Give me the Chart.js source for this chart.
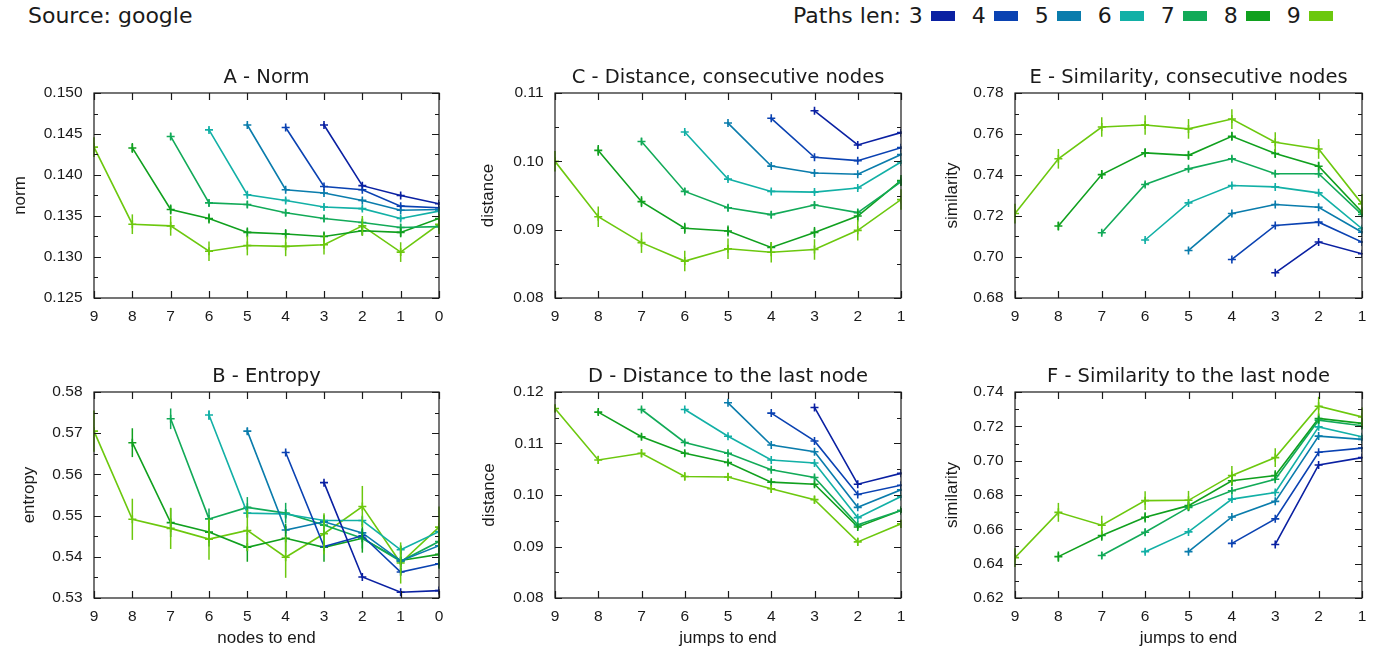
<!DOCTYPE html>
<html>
<head>
<meta charset="utf-8">
<script src="https://cdn.jsdelivr.net/npm/chart.js@4/dist/chart.umd.min.js"></script>
<style>
  body { margin: 0; background: #fff; width: 1377px; height: 649px; position: relative; overflow: hidden; font-family: 'DejaVu Sans', sans-serif; color: #1a1a1a; }
  canvas.panel { position: absolute; }
  #source { position: absolute; left: 28px; top: 3px; font-size: 22px; }
  #legend { position: absolute; left: 793px; top: 3px; font-size: 22px; display: flex; align-items: center; white-space: nowrap; }
  #legend .lbl { margin-right: 8px; }
  #legend .item { display: flex; align-items: center; margin-right: 17px; }
  #legend .sw { display: inline-block; width: 24px; height: 10px; margin-left: 8px; }
</style>
</head>
<body>
<div id="source">Source: google</div>
<div id="legend"><span class="lbl">Paths len:</span></div>

<canvas id="cA" class="panel"></canvas>
<canvas id="cB" class="panel"></canvas>
<canvas id="cC" class="panel"></canvas>
<canvas id="cD" class="panel"></canvas>
<canvas id="cE" class="panel"></canvas>
<canvas id="cF" class="panel"></canvas>

<script>
'use strict';

/* ──────────────────────────────────────────
   Data — one row per path length (3..9),
   values run from x = len down to the last x
   ────────────────────────────────────────── */
const pathLens = [3, 4, 5, 6, 7, 8, 9];
const lenColors = ['#0a20a2', '#0a42b2', '#0a7cac', '#12b0a6', '#12aa58', '#10a01e', '#6cc80e'];

const xTicksNodes = [9, 8, 7, 6, 5, 4, 3, 2, 1, 0];
const xTicksJumps = [9, 8, 7, 6, 5, 4, 3, 2, 1];

// A - Norm (x: len .. 0)
const normVals = [
  [0.1461, 0.1387, 0.1375, 0.1365],
  [0.1458, 0.1386, 0.1382, 0.1362, 0.1360],
  [0.1461, 0.1382, 0.1378, 0.1369, 0.1357, 0.1358],
  [0.1455, 0.1376, 0.1369, 0.1361, 0.1359, 0.1347, 0.1356],
  [0.1447, 0.1366, 0.1364, 0.1354, 0.1347, 0.1342, 0.1336, 0.1337],
  [0.1433, 0.1358, 0.1347, 0.1330, 0.1328, 0.1325, 0.1332, 0.1330, 0.1347],
  [0.1434, 0.1340, 0.1338, 0.1307, 0.1314, 0.1313, 0.1315, 0.1338, 0.1306, 0.1340]
];
const normErr = [0.0002, 0.0002, 0.0002, 0.0003, 0.0004, 0.0006, 0.0012];

// B - Entropy (x: len .. 0)
const entropyVals = [
  [0.5580, 0.5351, 0.5314, 0.5318],
  [0.5653, 0.5425, 0.5451, 0.5363, 0.5383],
  [0.5705, 0.5465, 0.5485, 0.5458, 0.5390, 0.5427],
  [0.5744, 0.5506, 0.5504, 0.5488, 0.5488, 0.5417, 0.5461],
  [0.5735, 0.5492, 0.5520, 0.5506, 0.5477, 0.5445, 0.5389, 0.5437],
  [0.5677, 0.5483, 0.5460, 0.5423, 0.5445, 0.5423, 0.5445, 0.5391, 0.5406],
  [0.5705, 0.5491, 0.5469, 0.5443, 0.5464, 0.5399, 0.5456, 0.5522, 0.5385, 0.5472]
];
const entropyErr = [0.0003, 0.0004, 0.0008, 0.0012, 0.0025, 0.0035, 0.0050];

// C - Distance, consecutive nodes (x: len .. 1)
const distConsVals = [
  [0.1074, 0.1024, 0.1042],
  [0.1063, 0.1006, 0.1001, 0.1020],
  [0.1056, 0.0993, 0.0983, 0.0981, 0.1010],
  [0.1043, 0.0974, 0.0956, 0.0955, 0.0961, 0.0999],
  [0.1029, 0.0956, 0.0932, 0.0922, 0.0936, 0.0925, 0.0970],
  [0.1016, 0.0941, 0.0902, 0.0898, 0.0874, 0.0896, 0.0920, 0.0972],
  [0.1000, 0.0919, 0.0881, 0.0854, 0.0872, 0.0867, 0.0871, 0.0899, 0.0944]
];
const distConsErr = [0.0002, 0.0002, 0.0002, 0.0003, 0.0005, 0.0008, 0.0015];

// D - Distance to the last node (x: len .. 1)
const distLastVals = [
  [0.1170, 0.1021, 0.1042],
  [0.1159, 0.1105, 0.1001, 0.1019],
  [0.1179, 0.1097, 0.1084, 0.0976, 0.1010],
  [0.1166, 0.1114, 0.1068, 0.1062, 0.0956, 0.0997],
  [0.1166, 0.1102, 0.1081, 0.1049, 0.1034, 0.0942, 0.0970],
  [0.1161, 0.1113, 0.1081, 0.1063, 0.1025, 0.1021, 0.0938, 0.0970],
  [0.1168, 0.1068, 0.1081, 0.1036, 0.1035, 0.1012, 0.0991, 0.0909, 0.0944]
];
const distLastErr = [0.0002, 0.0002, 0.0002, 0.0003, 0.0004, 0.0005, 0.0008];

// E - Similarity, consecutive nodes (x: len .. 1)
const simConsVals = [
  [0.6923, 0.7073, 0.7016],
  [0.6988, 0.7154, 0.7170, 0.7073],
  [0.7032, 0.7212, 0.7256, 0.7243, 0.7121],
  [0.7083, 0.7264, 0.7349, 0.7342, 0.7313, 0.7138],
  [0.7118, 0.7354, 0.7430, 0.7479, 0.7406, 0.7406, 0.7207],
  [0.7151, 0.7402, 0.7508, 0.7496, 0.7589, 0.7505, 0.7443, 0.7219],
  [0.7212, 0.7479, 0.7634, 0.7644, 0.7625, 0.7673, 0.7560, 0.7527, 0.7259]
];
const simConsErr = [0.0004, 0.0005, 0.0006, 0.0008, 0.0012, 0.0022, 0.0048];

// F - Similarity to the last node (x: len .. 1)
const simLastVals = [
  [0.6512, 0.6975, 0.7018],
  [0.6518, 0.6661, 0.7049, 0.7073],
  [0.6470, 0.6672, 0.6763, 0.7143, 0.7124],
  [0.6470, 0.6585, 0.6776, 0.6815, 0.7197, 0.7139],
  [0.6448, 0.6583, 0.6728, 0.6825, 0.6892, 0.7236, 0.7203],
  [0.6441, 0.6564, 0.6670, 0.6738, 0.6883, 0.6914, 0.7246, 0.7217],
  [0.6435, 0.6699, 0.6624, 0.6767, 0.6769, 0.6914, 0.7018, 0.7317, 0.7255]
];
const simLastErr = [0.0005, 0.0006, 0.0008, 0.0012, 0.0020, 0.0030, 0.0055];

/* ──────────────────────────────────────────
   Panel layout
   ────────────────────────────────────────── */
const panels = [
  { id: 'cA', title: 'A - Norm', ylabel: 'norm', xlabel: '', vals: normVals, err: normErr, xTicks: xTicksNodes,
    yMin: 0.125, yMax: 0.150, yStep: 0.005, dec: 3, left: 0, top: 55, w: 460, h: 300, yw: 94, pr: 21, pt: 38, xh: 57, yOff: -74 },
  { id: 'cB', title: 'B - Entropy', ylabel: 'entropy', xlabel: 'nodes to end', vals: entropyVals, err: entropyErr, xTicks: xTicksNodes,
    yMin: 0.53, yMax: 0.58, yStep: 0.01, dec: 2, left: 0, top: 355, w: 460, h: 294, yw: 94, pr: 21, pt: 37, xh: 51, yOff: -65 },
  { id: 'cC', title: 'C - Distance, consecutive nodes', ylabel: 'distance', xlabel: '', vals: distConsVals, err: distConsErr, xTicks: xTicksJumps,
    yMin: 0.08, yMax: 0.11, yStep: 0.01, dec: 2, left: 460, top: 55, w: 460, h: 300, yw: 95, pr: 19, pt: 38, xh: 57, yOff: -67 },
  { id: 'cD', title: 'D - Distance to the last node', ylabel: 'distance', xlabel: 'jumps to end', vals: distLastVals, err: distLastErr, xTicks: xTicksJumps,
    yMin: 0.08, yMax: 0.12, yStep: 0.01, dec: 2, left: 460, top: 355, w: 460, h: 294, yw: 95, pr: 19, pt: 37, xh: 51, yOff: -66 },
  { id: 'cE', title: 'E - Similarity, consecutive nodes', ylabel: 'similarity', xlabel: '', vals: simConsVals, err: simConsErr, xTicks: xTicksJumps,
    yMin: 0.68, yMax: 0.78, yStep: 0.02, dec: 2, left: 920, top: 55, w: 457, h: 300, yw: 95, pr: 15, pt: 38, xh: 57, yOff: -63 },
  { id: 'cF', title: 'F - Similarity to the last node', ylabel: 'similarity', xlabel: 'jumps to end', vals: simLastVals, err: simLastErr, xTicks: xTicksJumps,
    yMin: 0.62, yMax: 0.74, yStep: 0.02, dec: 2, left: 920, top: 355, w: 457, h: 294, yw: 95, pr: 15, pt: 37, xh: 51, yOff: -63 }
];

const TICK_FONT = { family: "'Liberation Sans', Arial, sans-serif", size: 15.5 };
const INK = '#1a1a1a';

/* ──────────────────────────────────────────
   Plugin: frame with inward ticks, titles, error bars
   ────────────────────────────────────────── */
const gnuFrame = {
  id: 'gnuFrame',
  afterDatasetsDraw(chart, args, o) {
    const { ctx, chartArea: a, scales: { x, y } } = chart;
    ctx.save();

    // error bars
    chart.data.datasets.forEach((ds, i) => {
      const meta = chart.getDatasetMeta(i);
      ctx.strokeStyle = ds.borderColor;
      ctx.lineWidth = 1.5;
      ds.data.forEach((p, j) => {
        const px = meta.data[j].x;
        ctx.beginPath();
        ctx.moveTo(px, y.getPixelForValue(p.y - ds.err));
        ctx.lineTo(px, y.getPixelForValue(p.y + ds.err));
        ctx.stroke();
      });
    });

    // border
    ctx.strokeStyle = INK;
    ctx.lineWidth = 1.2;
    ctx.strokeRect(a.left, a.top, a.right - a.left, a.bottom - a.top);

    // x ticks, bottom and top, inward
    ctx.beginPath();
    o.xTicks.forEach(v => {
      const px = Math.round(x.getPixelForValue(v)) + 0.5;
      ctx.moveTo(px, a.bottom); ctx.lineTo(px, a.bottom - 7);
      ctx.moveTo(px, a.top);    ctx.lineTo(px, a.top + 7);
    });
    // y ticks, major + minor, left and right
    const n = Math.round((o.yMax - o.yMin) / (o.yStep / 2));
    for (let k = 0; k <= n; k++) {
      const py = Math.round(y.getPixelForValue(o.yMin + k * o.yStep / 2)) + 0.5;
      const len = k % 2 === 0 ? 7 : 4;
      ctx.moveTo(a.left, py);  ctx.lineTo(a.left + len, py);
      ctx.moveTo(a.right, py); ctx.lineTo(a.right - len, py);
    }
    ctx.stroke();

    // panel title
    ctx.fillStyle = INK;
    ctx.textAlign = 'center';
    ctx.textBaseline = 'middle';
    ctx.font = "19.5px 'DejaVu Sans', sans-serif";
    ctx.fillText(o.title, (a.left + a.right) / 2, a.top - 15);

    // axis titles
    ctx.font = "17px 'Liberation Sans', Arial, sans-serif";
    if (o.xlabel) ctx.fillText(o.xlabel, (a.left + a.right) / 2, a.bottom + 40);
    ctx.translate(a.left + o.yOff, (a.top + a.bottom) / 2);
    ctx.rotate(-Math.PI / 2);
    ctx.fillText(o.ylabel, 0, 0);

    ctx.restore();
  }
};

/* ──────────────────────────────────────────
   Build charts
   ────────────────────────────────────────── */
function buildPanel(p) {
  const canvas = document.getElementById(p.id);
  canvas.width = p.w;
  canvas.height = p.h;
  canvas.style.left = p.left + 'px';
  canvas.style.top = p.top + 'px';

  const xMin = p.xTicks[p.xTicks.length - 1];
  const datasets = p.vals.map((row, i) => ({
    label: String(pathLens[i]),
    data: row.map((v, j) => ({ x: pathLens[i] - j, y: v })),
    err: p.err[i],
    borderColor: lenColors[i],
    backgroundColor: lenColors[i],
    borderWidth: 1.6,
    pointStyle: 'cross',
    pointRadius: 4,
    pointBorderWidth: 1.6,
    tension: 0
  }));

  new Chart(canvas, {
    type: 'line',
    data: { datasets },
    options: {
      responsive: false,
      animation: false,
      layout: { padding: { top: p.pt, right: p.pr, bottom: 0, left: 0 } },
      plugins: {
        legend: { display: false },
        tooltip: { enabled: false },
        gnuFrame: { title: p.title, xlabel: p.xlabel, ylabel: p.ylabel, xTicks: p.xTicks,
                    yMin: p.yMin, yMax: p.yMax, yStep: p.yStep, yOff: p.yOff }
      },
      scales: {
        x: {
          type: 'linear', reverse: true, min: xMin, max: 9, offset: false,
          grid: { display: false }, border: { display: false },
          ticks: { stepSize: 1, padding: 1.5, font: TICK_FONT, color: INK, maxRotation: 0, autoSkip: false },
          afterFit: s => { s.height = p.xh; }
        },
        y: {
          min: p.yMin, max: p.yMax,
          grid: { display: false }, border: { display: false },
          ticks: { stepSize: p.yStep, padding: 3.5, font: TICK_FONT, color: INK,
                   callback: v => Number(v).toFixed(p.dec) },
          afterFit: s => { s.width = p.yw; }
        }
      }
    },
    plugins: [gnuFrame]
  });
}

function buildLegend() {
  const box = document.getElementById('legend');
  pathLens.forEach((len, i) => {
    const item = document.createElement('span');
    item.className = 'item';
    item.innerHTML = `<span>${len}</span><span class="sw" style="background:${lenColors[i]}"></span>`;
    box.appendChild(item);
  });
}

buildLegend();
panels.forEach(buildPanel);
</script>
</body>
</html>
